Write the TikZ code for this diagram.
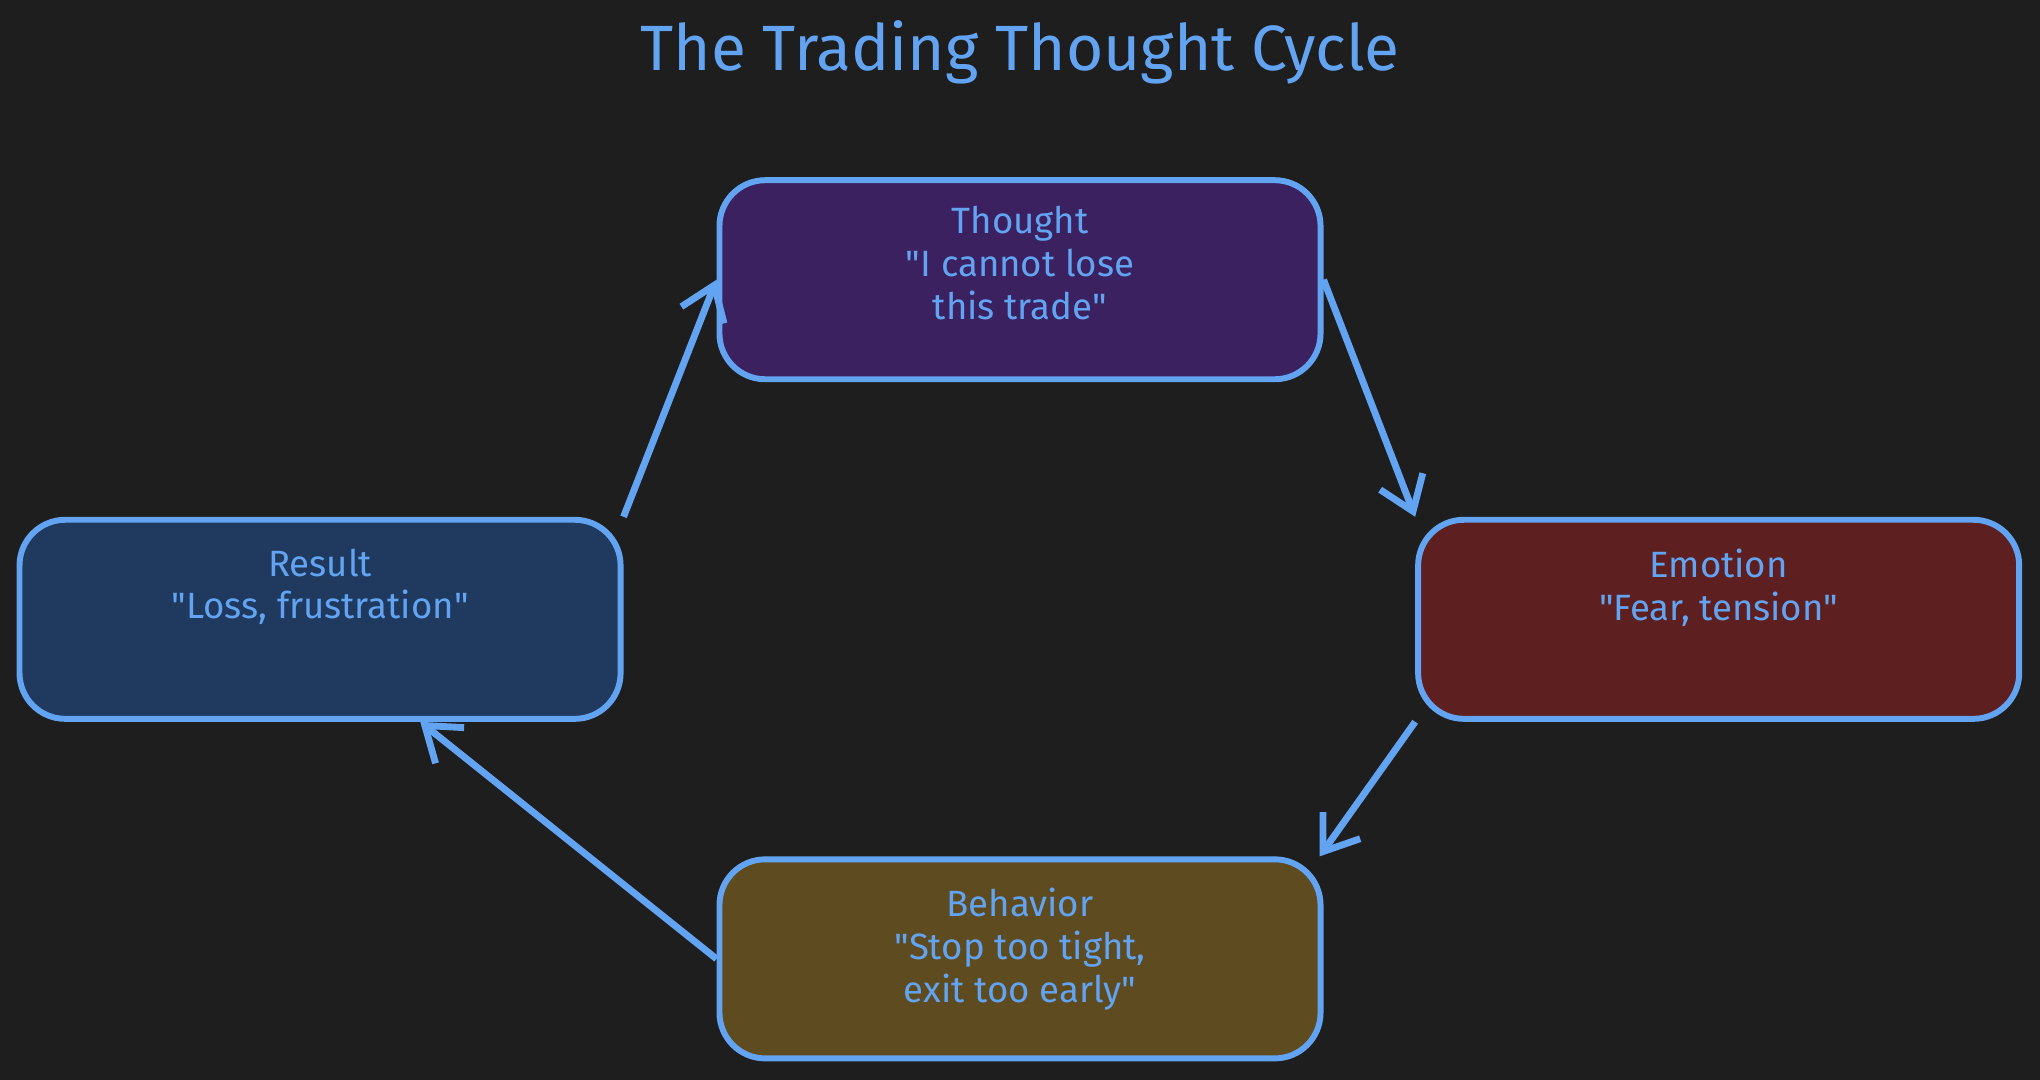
\documentclass[tikz,border=0pt]{standalone}
\usepackage{fontspec}
\setmainfont{Fira Sans}
\usetikzlibrary{arrows.meta}
\definecolor{bg}{HTML}{1E1E1E}
\definecolor{edge}{HTML}{62A4F2}
\definecolor{thoughtfill}{HTML}{3C2160}
\definecolor{emotionfill}{HTML}{5E1F21}
\definecolor{behaviorfill}{HTML}{5E4B20}
\definecolor{resultfill}{HTML}{1F3A5E}
\tikzset{
    stage/.style={draw=edge, line width=1.3pt, rounded corners=10pt, minimum width=4.62cm, minimum height=1.53cm}, % box of one stage
    caption/.style={text=edge, align=center, anchor=north, yshift=-0.12cm, font=\fontsize{8}{9.4}\selectfont}, % text at the top of a box
    flow/.style={draw=edge, line width=1.5pt, -{Straight Barb[length=7pt, width=10pt]}} % arrow between stages
}
\begin{document}
\begin{tikzpicture}
    \fill[bg] (0,0) rectangle (15.68,8.30);
    \useasboundingbox (0,0) rectangle (15.68,8.30);

    \node[text=edge, font=\fontsize{14}{16}\selectfont] (title) at (7.84,7.90) {The Trading Thought Cycle};

    \node[stage, fill=thoughtfill, label={[caption, yshift=0.02cm]north:Thought\\\textquotedbl I cannot lose\\this trade\textquotedbl}] (thought) at (7.84,6.15) {};
    \node[stage, fill=emotionfill, label={[caption]north:Emotion\\\textquotedbl Fear, tension\textquotedbl}] (emotion) at (13.21,3.54) {};
    \node[stage, fill=behaviorfill, label={[caption]north:Behavior\\\textquotedbl Stop too tight,\\exit too early\textquotedbl}] (behavior) at (7.84,0.93) {};
    \node[stage, fill=resultfill, label={[caption]north:Result\\\textquotedbl Loss, frustration\textquotedbl}] (result) at (2.46,3.54) {};

    \draw[flow] (result.north east) -- (thought.west);
    \draw[flow] (thought.east) -- (emotion.north west);
    \draw[flow] (emotion.south west) -- ([xshift=-0.03cm]behavior.north east);
    \draw[flow] (behavior.west) -- ([xshift=0.77cm]result.south);
\end{tikzpicture}
\end{document}
